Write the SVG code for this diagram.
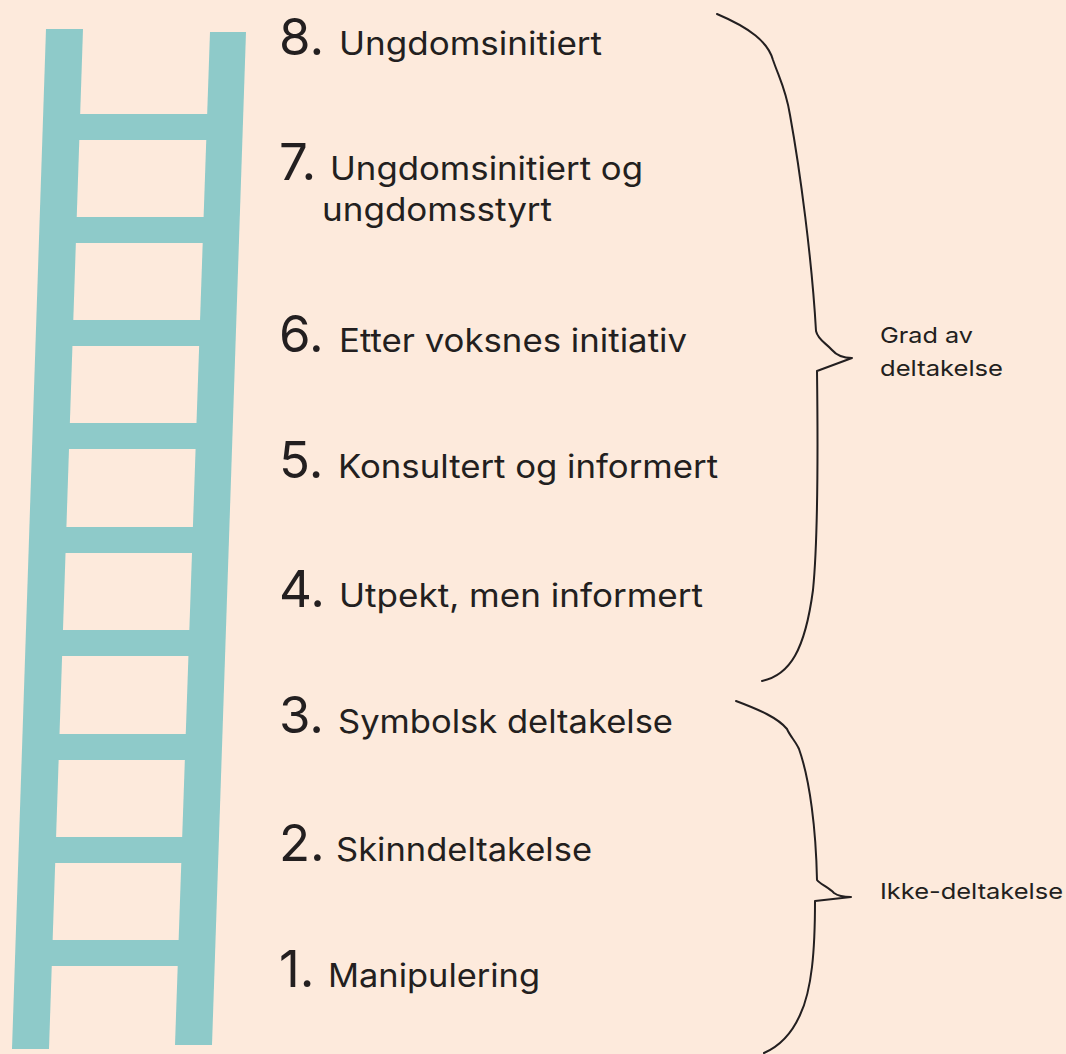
<svg xmlns="http://www.w3.org/2000/svg" width="1066" height="1054" viewBox="0 0 1066 1054">
<style>
.bg{fill:#FDEADC}
.lad{fill:#8ECAC9}
.num{font-family:Inter,"Liberation Sans",sans-serif;font-size:51px;fill:#231F20}
.lbl{font-family:Inter,"Liberation Sans",sans-serif;font-size:32px;fill:#231F20}
.sm{font-family:Inter,"Liberation Sans",sans-serif;font-size:22px;fill:#231F20}
.brace{fill:none;stroke:#231F20;stroke-width:2;stroke-linejoin:round;stroke-linecap:round}
</style>
<rect class="bg" x="0" y="0" width="1066" height="1054"/>
<g id="ladder">
<polygon class="lad" points="46,29 83,29 49,1049 12,1049"/>
<polygon class="lad" points="210,32 246,32 212,1045 175,1045"/>
<rect class="lad" x="60" y="114" width="165" height="26"/>
<rect class="lad" x="58" y="217" width="164" height="26"/>
<rect class="lad" x="54" y="320" width="165" height="26"/>
<rect class="lad" x="50" y="423" width="165" height="26"/>
<rect class="lad" x="47" y="527" width="165" height="26"/>
<rect class="lad" x="43" y="630" width="165" height="26"/>
<rect class="lad" x="40" y="734" width="165" height="26"/>
<rect class="lad" x="36" y="837" width="165" height="26"/>
<rect class="lad" x="33" y="940" width="165" height="26"/>
</g>
<g id="step8"><text class="num" x="279" y="55">8.</text><text class="lbl" x="339" y="55" textLength="263" lengthAdjust="spacingAndGlyphs">Ungdomsinitiert</text></g>
<g id="step7"><text class="num" x="279" y="180">7.</text><text class="lbl" x="330" y="180" textLength="313" lengthAdjust="spacingAndGlyphs">Ungdomsinitiert og</text><text class="lbl" x="322" y="221" textLength="230" lengthAdjust="spacingAndGlyphs">ungdomsstyrt</text></g>
<g id="step6"><text class="num" x="279" y="352">6.</text><text class="lbl" x="339" y="352" textLength="348" lengthAdjust="spacingAndGlyphs">Etter voksnes initiativ</text></g>
<g id="step5"><text class="num" x="279" y="478">5.</text><text class="lbl" x="338" y="478" textLength="380" lengthAdjust="spacingAndGlyphs">Konsultert og informert</text></g>
<g id="step4"><text class="num" x="279" y="607">4.</text><text class="lbl" x="339" y="607" textLength="364" lengthAdjust="spacingAndGlyphs">Utpekt, men informert</text></g>
<g id="step3"><text class="num" x="279" y="733">3.</text><text class="lbl" x="338" y="733" textLength="335" lengthAdjust="spacingAndGlyphs">Symbolsk deltakelse</text></g>
<g id="step2"><text class="num" x="279" y="861">2.</text><text class="lbl" x="336" y="861" textLength="256" lengthAdjust="spacingAndGlyphs">Skinndeltakelse</text></g>
<g id="step1"><text class="num" x="279" y="987">1.</text><text class="lbl" x="328" y="987" textLength="212" lengthAdjust="spacingAndGlyphs">Manipulering</text></g>
<g id="connectors">
<path class="brace" d="M717,14 C750,28 768,42 773,60 C780,80 786,90 790,115 C800,170 812,260 816,331 C818,340 826,343 832,350 C838,357 845,358 852,358 L817,371 C818,450 818,540 813,590 C805,650 790,675 762,681"/>
<path class="brace" d="M736,701 C760,710 778,718 787,729 C790,736 796,742 799,749 C810,780 816,830 817,880 C820,884 828,887 834,893 C838,896 845,897 851,897 L815,901 C815,950 812,990 800,1015 C792,1033 780,1046 764,1053"/>
</g>
<g id="grad"><text class="sm" x="880" y="343" textLength="93" lengthAdjust="spacingAndGlyphs">Grad av</text><text class="sm" x="880" y="376" textLength="123" lengthAdjust="spacingAndGlyphs">deltakelse</text></g>
<g id="ikke"><text class="sm" x="880" y="899" textLength="183" lengthAdjust="spacingAndGlyphs">Ikke-deltakelse</text></g>
</svg>
